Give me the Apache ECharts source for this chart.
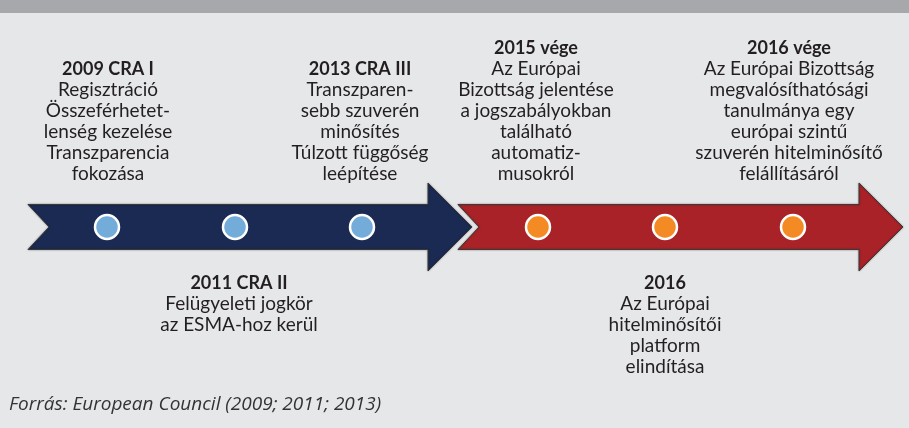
<!DOCTYPE html>
<html>
<head>
<meta charset="utf-8">
<script src="https://cdn.jsdelivr.net/npm/echarts@6/dist/echarts.min.js"></script>
<style>
  html, body { margin: 0; padding: 0; background: #e6e7e9; }
  #chart { width: 909px; height: 428px; }
</style>
</head>
<body>
<div id="chart"></div>
<script>
// idővonal adatai
const eventTitles = ['2009 CRA I', '2011 CRA II', '2013 CRA III', '2015 vége', '2016', '2016 vége'];
const eventLines = [
  ['Regisztráció', 'Összeférhetet-', 'lenség kezelése', 'Transzparencia', 'fokozása'],
  ['Felügyeleti jogkör', 'az ESMA-hoz kerül'],
  ['Transzparen-', 'sebb szuverén', 'minősítés', 'Túlzott függőség', 'leépítése'],
  ['Az Európai', 'Bizottság jelentése', 'a jogszabályokban', 'található', 'automatiz-', 'musokról'],
  ['Az Európai', 'hitelminősítői', 'platform', 'elindítása'],
  ['Az Európai Bizottság', 'megvalósíthatósági', 'tanulmánya egy', 'európai szintű', 'szuverén hitelminősítő', 'felállításáról']
];
const eventSide = ['top', 'bottom', 'top', 'top', 'bottom', 'top'];
const eventPos = [107, 235, 362, 538, 665, 793];   // pont helye az idővonalon
const textPos = [108, 239, 360, 536, 665, 789];
const eventPhase = [0, 0, 0, 1, 1, 1];
// két szakasz (nyíl)
const phaseStart = [28, 458];
const phaseEnd = [472, 903];
const source = 'Forrás: European Council (2009; 2011; 2013)';

const LINE_Y = 227;
const arrowColors = ['#1b2a53', '#a82227'];
const dotColors = ['#74acd9', '#f38a24'];
const txt = '#231f20';
const font = 'Lato, "Open Sans", sans-serif';

const myChart = echarts.init(document.getElementById('chart'));

function renderArrow(params, api) {
  const a = api.coord([api.value(0), LINE_Y]);
  const b = api.coord([api.value(1), LINE_Y]);
  const y = a[1];
  const bodyH = 22.5, headH = 44, headW = 44, notch = 21;
  return {
    type: 'polygon',
    shape: {
      points: [
        [a[0], y - bodyH], [b[0] - headW, y - bodyH], [b[0] - headW, y - headH],
        [b[0], y], [b[0] - headW, y + headH], [b[0] - headW, y + bodyH],
        [a[0], y + bodyH], [a[0] + notch, y]
      ]
    },
    style: {
      fill: arrowColors[params.dataIndex],
      stroke: '#3a3a3a',
      lineWidth: 1,
      shadowColor: 'rgba(0,0,0,0.35)',
      shadowBlur: 2
    }
  };
}

function renderText(params, api) {
  const i = params.dataIndex;
  const top = eventSide[i] === 'top';
  const p = api.coord([api.value(0), top ? 184.5 : 272.5]);
  return {
    type: 'text',
    x: p[0],
    y: p[1],
    style: {
      text: '{b|' + eventTitles[i] + '}\n' + eventLines[i].join('\n'),
      fontFamily: font,
      fontSize: 19,
      lineHeight: 21,
      fill: txt,
      align: 'center',
      verticalAlign: top ? 'bottom' : 'top',
      rich: {
        b: { fontFamily: font, fontSize: 18, fontWeight: 'bold', lineHeight: 21, fill: txt }
      }
    }
  };
}

const option = {
  backgroundColor: '#e6e7e9',
  animation: false,
  grid: { left: 0, right: 0, top: 0, bottom: 0 },
  xAxis: { type: 'value', min: 0, max: 909, show: false },
  yAxis: { type: 'value', min: 0, max: 428, inverse: true, show: false },
  graphic: [
    { type: 'rect', left: 0, top: 0, shape: { width: 909, height: 13 }, style: { fill: '#a7a8ab' } },
    {
      type: 'text', left: 9, top: 395,
      style: { text: source, fontFamily: '"Open Sans", sans-serif', fontStyle: 'italic', fontSize: 19, fill: '#333' }
    }
  ],
  series: [
    {
      type: 'custom',
      renderItem: renderArrow,
      data: phaseStart.map((s, i) => [s, phaseEnd[i]]),
      z: 1
    },
    {
      type: 'scatter',
      symbol: 'circle',
      symbolSize: 24,
      data: eventPos.map((x, i) => ({
        value: [x, LINE_Y],
        itemStyle: { color: dotColors[eventPhase[i]] }
      })),
      itemStyle: { borderColor: '#fff', borderWidth: 2.5, opacity: 1 },
      z: 3
    },
    {
      type: 'custom',
      renderItem: renderText,
      data: textPos.map(x => [x]),
      z: 4
    }
  ]
};

myChart.setOption(option);
window.addEventListener('resize', () => myChart.resize());
</script>
</body>
</html>
